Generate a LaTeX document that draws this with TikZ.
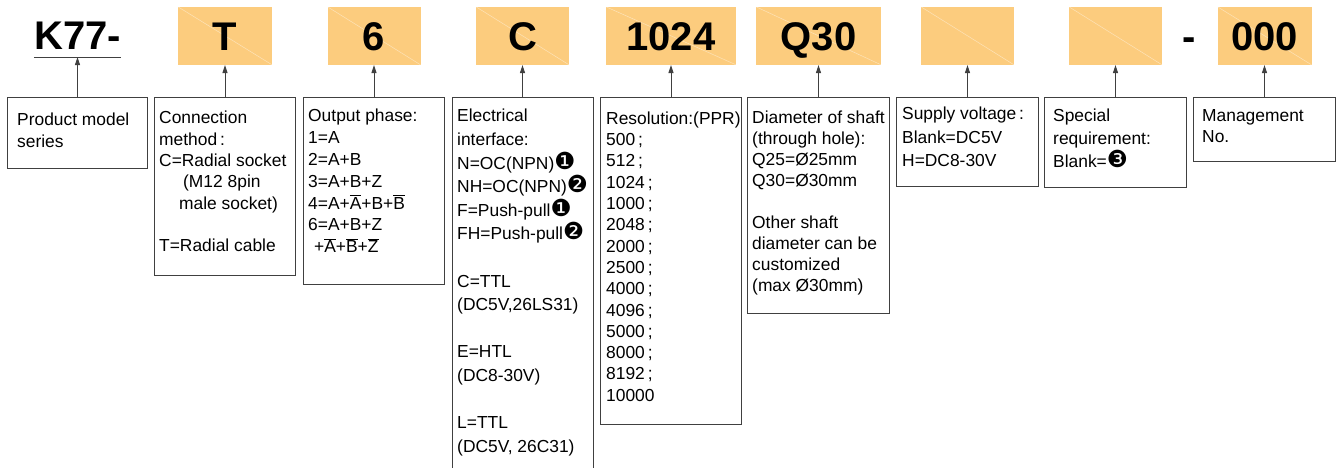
\documentclass[tikz,border=0pt]{standalone}
\usepackage{fontspec}
\setmainfont{Liberation Sans}
\newfontfamily\dingfont[Scale=1.35]{DejaVu Sans}
\usepackage{xcolor}
\usetikzlibrary{positioning, arrows.meta}

\definecolor{codefill}{RGB}{252,204,126}
\definecolor{edgegray}{RGB}{64,64,64}

\newcommand{\negsig}[1]{$\overline{\mbox{#1}}$}
\newcommand{\circnum}[1]{{\dingfont #1}}

\begin{document}
\begin{tikzpicture}[
    x=1pt, y=-1pt,
    code/.style={inner sep=0pt, text height=28.6pt, text depth=0pt, font=\fontsize{40}{44}\selectfont\bfseries},
    codebox/.style={code, fill=codefill, minimum height=58pt,
        path picture={\draw[white, opacity=.45, line width=.5pt] (path picture bounding box.north west) -- (path picture bounding box.south east);}},
    descbox/.style={draw=edgegray, line width=1pt, anchor=north west, inner sep=0pt},
    desc/.style={inner sep=0pt, align=left, font=\fontsize{17.4}{#1}\selectfont},
    desc/.default=21.3pt,
    pointer/.style={-{Triangle[length=8pt,width=5pt]}, draw=edgegray, line width=1pt}
]
\useasboundingbox (0,0) rectangle (1338,467);

\node[descbox, minimum width=140pt, minimum height=71pt] (prod) at (7,97) {};
\node[descbox, minimum width=141pt, minimum height=178pt] (conn) at (154,97) {};
\node[descbox, minimum width=141pt, minimum height=187pt] (outp) at (303,97) {};
\node[descbox, draw=none, minimum width=140pt, minimum height=370pt] (elec) at (452,97) {};
\node[descbox, minimum width=141pt, minimum height=327pt] (resl) at (600,97) {};
\node[descbox, minimum width=142pt, minimum height=216pt] (shaft) at (747,97) {};
\node[descbox, minimum width=142pt, minimum height=89pt] (volt) at (896,97) {};
\node[descbox, minimum width=142pt, minimum height=90pt] (spec) at (1044,97) {};
\node[descbox, minimum width=142pt, minimum height=64pt] (mgmt) at (1193,97) {};
\draw[draw=edgegray, line width=1pt] (elec.south west) |- (elec.north east) -- (elec.south east);

\node[code, above=47pt of prod] (k77) {K77-};
\coordinate (k77line) at ([yshift=-7pt]k77.south);
\draw[draw=edgegray, line width=1pt] ([yshift=-7pt]k77.south west) -- ([yshift=-7pt]k77.south east);
\node[codebox, minimum width=94pt, above=32pt of conn] (pT) {T};
\node[codebox, minimum width=93pt, above=32pt of outp] (p6) {6};
\node[codebox, minimum width=93pt, above=32pt of elec] (pC) {C};
\node[codebox, minimum width=130pt, above=32pt of resl] (pRes) {1024};
\node[codebox, minimum width=125pt, above=32pt of shaft] (pQ) {Q30};
\node[codebox, minimum width=93pt, above=32pt of volt] (pV) {};
\node[codebox, minimum width=93pt, above=32pt of spec] (pS) {};
\node[codebox, minimum width=94pt, above=32pt of mgmt] (pM) {000};
\node[code, left=21.5pt of pM] (dash) {-};

\foreach \from/\to in {prod/k77line, conn/pT.south, outp/p6.south, elec/pC.south, resl/pRes.south,
    shaft/pQ.south, volt/pV.south, spec/pS.south, mgmt/pM.south}
  \draw[pointer] (\from.north) -- (\to);

\node[desc=21.3pt, below right=16pt and 10pt of prod.north west] (prodtxt) {Product model\\series};
\node[desc=21.3pt, below right=14pt and 5pt of conn.north west] (conntxt) {Connection\\method\,:\\C=Radial socket\\\hspace*{24pt}(M12 8pin\\\hspace*{20pt}male socket)\\ \\T=Radial cable};
\node[desc=21.8pt, below right=12pt and 5pt of outp.north west] (outptxt) {Output phase:\\1=A\\2=A+B\\3=A+B+Z\\4=A+\negsig{A}+B+\negsig{B}\\6=A+B+Z\\\hspace*{6pt}+\negsig{A}+\negsig{B}+\negsig{Z}};
\node[desc=23.6pt, below right=12pt and 5pt of elec.north west] (electxt) {Electrical\\interface:\\N=OC(NPN)\circnum{❶}\\NH=OC(NPN)\circnum{❷}\\F=Push-pull\circnum{❶}\\FH=Push-pull\circnum{❷}\\ \\C=TTL\\(DC5V,26LS31)\\ \\E=HTL\\(DC8-30V)\\ \\L=TTL\\(DC5V, 26C31)};
\node[desc=21.3pt, below right=14.5pt and 6pt of resl.north west] (resltxt) {Resolution:(PPR)\\500\,;\\512\,;\\1024\,;\\1000\,;\\2048\,;\\2000\,;\\2500\,;\\4000\,;\\4096\,;\\5000\,;\\8000\,;\\8192\,;\\10000};
\node[desc=21pt, below right=14pt and 5pt of shaft.north west] (shafttxt) {Diameter of shaft\\(through hole):\\Q25=Ø25mm\\Q30=Ø30mm\\ \\Other shaft\\diameter can be\\customized\\(max Ø30mm)};
\node[desc=23.3pt, below right=10pt and 6pt of volt.north west] (volttxt) {Supply voltage\,:\\Blank=DC5V\\H=DC8-30V};
\node[desc=23pt, below right=11.5pt and 9pt of spec.north west] (spectxt) {Special\\requirement:\\Blank=\circnum{❸}};
\node[desc=21.6pt, below right=12pt and 9pt of mgmt.north west] (mgmttxt) {Management\\No.};

\end{tikzpicture}
\end{document}
